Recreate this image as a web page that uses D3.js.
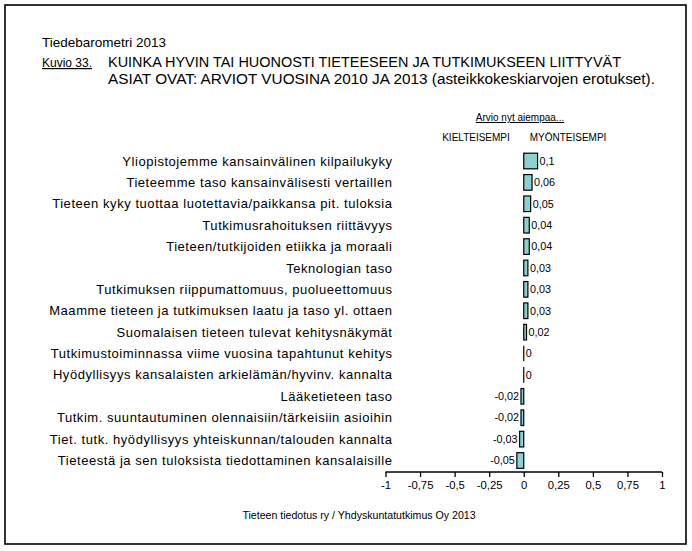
<!DOCTYPE html>
<html><head><meta charset="utf-8">
<script src="https://cdn.jsdelivr.net/npm/d3@7"></script>
<style>body{margin:0;background:#fff}svg{display:block}text{font-family:"Liberation Sans",Arial,sans-serif;fill:#000}</style>
</head><body><svg id="c" width="692" height="551"></svg>
<script>
const categories = [
 "Yliopistojemme kansainvälinen kilpailukyky",
 "Tieteemme taso kansainvälisesti vertaillen",
 "Tieteen kyky tuottaa luotettavia/paikkansa pit. tuloksia",
 "Tutkimusrahoituksen riittävyys",
 "Tieteen/tutkijoiden etiikka ja moraali",
 "Teknologian taso",
 "Tutkimuksen riippumattomuus, puolueettomuus",
 "Maamme tieteen ja tutkimuksen laatu ja taso yl. ottaen",
 "Suomalaisen tieteen tulevat kehitysnäkymät",
 "Tutkimustoiminnassa viime vuosina tapahtunut kehitys",
 "Hyödyllisyys kansalaisten arkielämän/hyvinv. kannalta",
 "Lääketieteen taso",
 "Tutkim. suuntautuminen olennaisiin/tärkeisiin asioihin",
 "Tiet. tutk. hyödyllisyys yhteiskunnan/talouden kannalta",
 "Tieteestä ja sen tuloksista tiedottaminen kansalaisille"
];
const values = [0.1,0.06,0.05,0.04,0.04,0.03,0.03,0.03,0.02,0,0,-0.02,-0.02,-0.03,-0.05];
const tickValues = [-1,-0.75,-0.5,-0.25,0,0.25,0.5,0.75,1];
const fmt = v => String(v).replace(".", ",");

const svg = d3.select("#c");
svg.append("rect").attr("x",5).attr("y",5).attr("width",681).attr("height",539)
  .attr("fill","none").attr("stroke","#000").attr("stroke-width",1.6);

svg.append("text").attr("x",42).attr("y",47).attr("font-size",13.5).text("Tiedebarometri 2013");
svg.append("text").attr("x",42).attr("y",67).attr("font-size",12).attr("text-decoration","underline").text("Kuvio 33.");
svg.append("text").attr("x",108).attr("y",67).attr("font-size",14)
  .attr("textLength",513).attr("lengthAdjust","spacingAndGlyphs")
  .text("KUINKA HYVIN TAI HUONOSTI TIETEESEEN JA TUTKIMUKSEEN LIITTYVÄT");
svg.append("text").attr("x",108).attr("y",83.5).attr("font-size",14)
  .attr("textLength",547).attr("lengthAdjust","spacingAndGlyphs")
  .text("ASIAT OVAT: ARVIOT VUOSINA 2010 JA 2013 (asteikkokeskiarvojen erotukset).");

const x = d3.scaleLinear().domain([-1,1]).range([385.5,662]);
const y = d3.scaleBand().domain(categories).range([150.3,471.2]).paddingInner(0.27).paddingOuter(0.135);

svg.append("text").attr("x",520).attr("y",121).attr("font-size",10).attr("text-anchor","middle")
  .attr("text-decoration","underline").text("Arvio nyt aiempaa...");
svg.append("text").attr("x",476).attr("y",141).attr("font-size",10).attr("text-anchor","middle").text("KIELTEISEMPI");
svg.append("text").attr("x",568).attr("y",141).attr("font-size",10).attr("text-anchor","middle").text("MYÖNTEISEMPI");

const rows = values.map((v,i)=>({v, c:categories[i]}));
const g = svg.append("g");
g.selectAll("text.cat").data(categories).join("text").attr("class","cat")
  .attr("x",392.5).attr("y",d=>y(d)+y.bandwidth()/2).attr("dy","0.35em")
  .attr("text-anchor","end").attr("font-size",13).attr("letter-spacing",0.55).text(d=>d);

g.selectAll("rect.bar").data(rows.filter(d=>d.v!==0)).join("rect").attr("class","bar")
  .attr("x",d=>x(Math.min(0,d.v))).attr("width",d=>Math.abs(x(d.v)-x(0)))
  .attr("y",d=>y(d.c)).attr("height",y.bandwidth())
  .attr("fill","#8dd0cf").attr("stroke","#000").attr("stroke-width",1.2);
g.selectAll("line.zero").data(rows.filter(d=>d.v===0)).join("line").attr("class","zero")
  .attr("x1",d=>x(d.v)).attr("x2",d=>x(d.v))
  .attr("y1",d=>y(d.c)).attr("y2",d=>y(d.c)+y.bandwidth())
  .attr("stroke","#000").attr("stroke-width",1.2);

g.selectAll("text.val").data(rows).join("text").attr("class","val")
  .attr("x",d=>d.v<0 ? x(d.v)-2 : x(d.v)+2)
  .attr("y",d=>y(d.c)+y.bandwidth()/2).attr("dy","0.35em")
  .attr("text-anchor",d=>d.v<0?"end":"start").attr("font-size",10.8).text(d=>fmt(d.v));

const ax = svg.append("g").attr("transform","translate(0,472)")
  .call(d3.axisBottom(x).tickValues(tickValues).tickSize(5).tickPadding(4).tickFormat(fmt));
ax.select(".domain").attr("stroke","#000").attr("stroke-width",1.3).attr("d","M385.5,0H662");
ax.selectAll(".tick line").attr("stroke","#000").attr("stroke-width",1.3);
ax.selectAll(".tick text").attr("font-size",11.3).attr("font-family","Liberation Sans, Arial, sans-serif").attr("fill","#000");

svg.append("text").attr("x",359).attr("y",519).attr("font-size",10.6).attr("text-anchor","middle")
  .text("Tieteen tiedotus ry / Yhdyskuntatutkimus Oy 2013");
</script></body></html>
